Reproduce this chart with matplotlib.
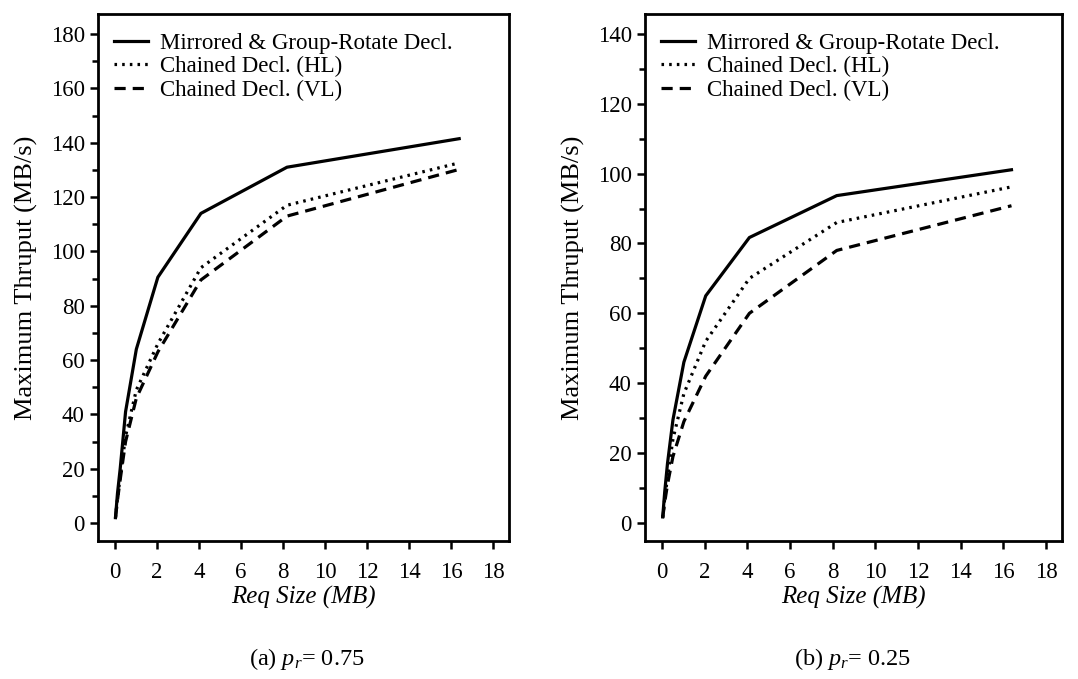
import matplotlib
matplotlib.use("Agg")
import matplotlib.pyplot as plt
from matplotlib.ticker import MultipleLocator

plt.rcParams['font.family'] = ['Liberation Serif', 'DejaVu Serif']
plt.rcParams['mathtext.fontset'] = 'custom'
plt.rcParams['mathtext.it'] = 'Liberation Serif:italic'
plt.rcParams['mathtext.rm'] = 'Liberation Serif'

# Request sizes (MB)
req_size = [0.032, 0.128, 0.256, 0.512, 1.024, 2.048, 4.096, 8.192, 16.384]

labels = ['Mirrored & Group-Rotate Decl.', 'Chained Decl. (HL)', 'Chained Decl. (VL)']

# (a) p_r = 0.75
a_mirrored = [2, 11, 20, 41, 64, 90.5, 114, 131, 141.5]
a_chained_hl = [2, 9, 17, 32, 49, 66, 94, 117, 132.6]
a_chained_vl = [2, 8.5, 16, 30, 46, 63, 89.5, 113, 130.2]

# (b) p_r = 0.25
b_mirrored = [1.7, 9, 17, 29.5, 46, 65, 81.7, 93.7, 101.1]
b_chained_hl = [1.5, 7, 13, 24, 37, 52, 70, 86, 96.2]
b_chained_vl = [1.5, 6, 11, 19, 29, 42, 60, 78, 90.8]

styles = ['-', (0, (0.8, 1.6)), (0, (3.5, 2.2))]

fig = plt.figure(figsize=(10.78, 6.79), dpi=100)
ax1 = fig.add_axes([0.0909, 0.2032, 0.3812, 0.7762])
ax2 = fig.add_axes([0.5983, 0.2032, 0.3868, 0.7762])


def draw(ax, series, ymax, ylim):
    for ys, ls, lab in zip(series, styles, labels):
        ax.plot(req_size, ys, color='black', linestyle=ls, linewidth=2.3, label=lab)
    ax.set_xlim(-0.8, 18.75)
    ax.set_ylim(*ylim)
    ax.set_xticks(range(0, 19, 2))
    ax.set_yticks(range(0, ymax + 1, 20))
    ax.yaxis.set_minor_locator(MultipleLocator(10))
    ax.tick_params(which='both', direction='out', width=1.8, labelsize=16.5)
    ax.tick_params(which='major', length=6)
    ax.tick_params(which='minor', length=4)
    ax.tick_params(axis='x', which='major', length=6, pad=9)
    for s in ax.spines.values():
        s.set_linewidth(2)
    ax.set_xlabel('Req Size (MB)', fontsize=18, style='italic', labelpad=2)
    ax.set_ylabel('Maximum Thruput (MB/s)', fontsize=19, labelpad=9)
    ax.legend(loc='upper left', frameon=False, fontsize=16.5, handlelength=1.5,
              handletextpad=0.5, labelspacing=0.1, borderaxespad=0.3,
              bbox_to_anchor=(0.0, 0.995))


draw(ax1, [a_mirrored, a_chained_hl, a_chained_vl], 180, (-6.6, 187.4))
draw(ax2, [b_mirrored, b_chained_hl, b_chained_vl], 140, (-5.2, 145.7))

fig.text(0.285, 0.02, '(a) $p_r$= 0.75', ha='center', fontsize=17.5)
fig.text(0.791, 0.02, '(b) $p_r$= 0.25', ha='center', fontsize=17.5)

fig.savefig('out.png', dpi=100)
